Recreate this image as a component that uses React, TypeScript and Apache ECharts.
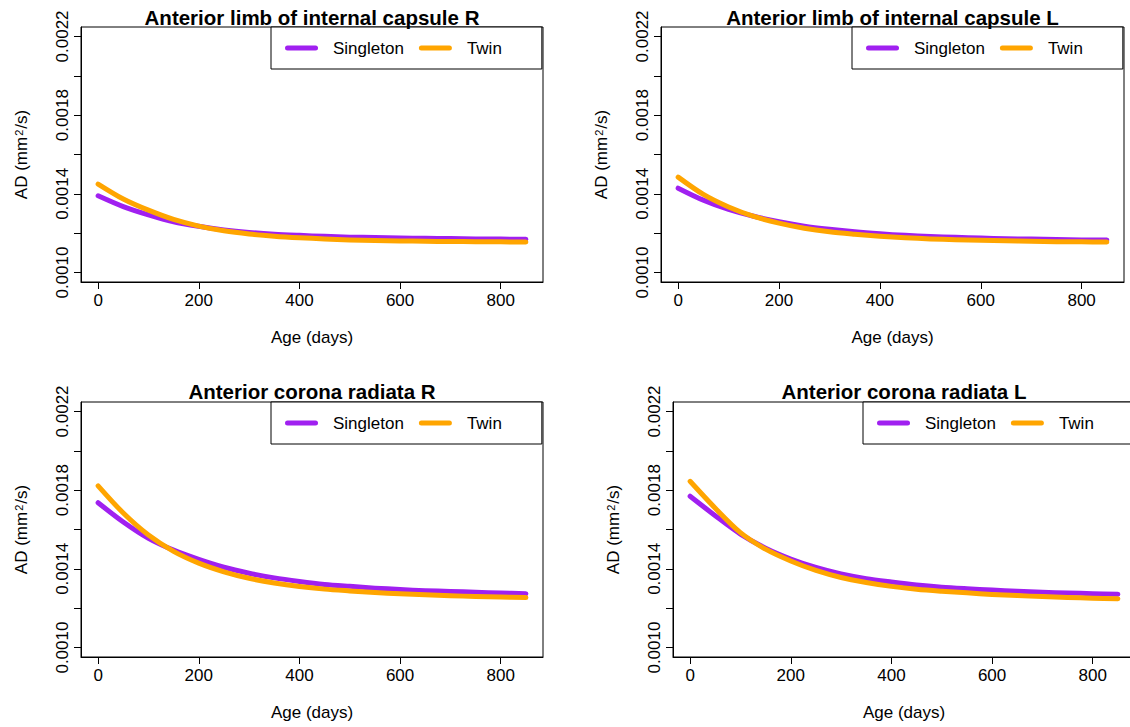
import React, { useEffect, useRef } from "react";
import * as echarts from "echarts";

// ---- data ----
const days = [0, 50, 100, 150, 200, 250, 300, 350, 400, 450, 500, 550, 600, 650, 700, 750, 800, 850];
const panelTitles = [
  "Anterior limb of internal capsule R",
  "Anterior limb of internal capsule L",
  "Anterior corona radiata R",
  "Anterior corona radiata L",
];
const groupNames = ["Singleton", "Twin"];

const alicRSingleton = [0.00139, 0.001335, 0.001293, 0.001258, 0.001235, 0.001217, 0.001204, 0.001195, 0.001189, 0.001184, 0.00118, 0.001178, 0.001176, 0.001174, 0.001173, 0.001171, 0.00117, 0.001169];
const alicRTwin = [0.00145, 0.001374, 0.001317, 0.00127, 0.001236, 0.001212, 0.001196, 0.001185, 0.001177, 0.001171, 0.001166, 0.001163, 0.001161, 0.001159, 0.001158, 0.001157, 0.001156, 0.001155];
const alicLSingleton = [0.001429, 0.001368, 0.001321, 0.001286, 0.001258, 0.001236, 0.00122, 0.001207, 0.001197, 0.001189, 0.001183, 0.001179, 0.001175, 0.001172, 0.00117, 0.001168, 0.001166, 0.001165];
const alicLTwin = [0.001485, 0.001397, 0.001333, 0.001285, 0.001251, 0.001225, 0.001207, 0.001195, 0.001185, 0.001177, 0.001171, 0.001167, 0.001164, 0.001162, 0.001159, 0.001157, 0.001156, 0.001155];
const acrRSingleton = [0.001736, 0.001638, 0.001555, 0.001495, 0.001448, 0.001408, 0.001378, 0.001354, 0.001336, 0.001321, 0.001311, 0.001302, 0.001295, 0.001289, 0.001285, 0.001281, 0.001277, 0.001274];
const acrRTwin = [0.001822, 0.001684, 0.001572, 0.001489, 0.001429, 0.001385, 0.001352, 0.001328, 0.00131, 0.001297, 0.001288, 0.00128, 0.001273, 0.001268, 0.001263, 0.00126, 0.001257, 0.001254];
const acrLSingleton = [0.001769, 0.00167, 0.001577, 0.001505, 0.00145, 0.001407, 0.001374, 0.00135, 0.001333, 0.001318, 0.001307, 0.001299, 0.001292, 0.001286, 0.001281, 0.001277, 0.001274, 0.001271];
const acrLTwin = [0.001845, 0.001708, 0.001584, 0.0015, 0.00144, 0.001392, 0.001356, 0.001331, 0.001311, 0.001296, 0.001286, 0.001278, 0.00127, 0.001264, 0.001259, 0.001255, 0.001251, 0.001248];

const panelData = [
  [alicRSingleton, alicRTwin],
  [alicLSingleton, alicLTwin],
  [acrRSingleton, acrRTwin],
  [acrLSingleton, acrLTwin],
];

const xTickValues = [0, 200, 400, 600, 800];
const yTickValues = [0.001, 0.0012, 0.0014, 0.0016, 0.0018, 0.002, 0.0022];
const yLabelValues = [0.001, 0.0014, 0.0018, 0.0022];
const xRange = [-34, 884];
const yRange = [0.000952, 0.002248];

const xTitle = "Age (days)";
const yTitle = "AD (mm{sup|2}/s)";

// ---- layout / style ----
const FONT = '"Liberation Sans", Arial, Helvetica, sans-serif';
const COLORS = ["#A020F0", "#FFA500"];
const grids = [
  { left: 81, top: 27, width: 462, height: 255 },
  { left: 661, top: 27, width: 463, height: 255 },
  { left: 81, top: 402, width: 462, height: 255 },
  { left: 673, top: 402, width: 462, height: 255 },
];
const legendWidth = 272;

export default function App() {
  const ref = useRef<HTMLDivElement>(null);

  useEffect(() => {
    if (!ref.current) return;
    const chart = echarts.init(ref.current, null, { renderer: "svg" });

    const xAxis = grids.map((g, i) => ({
      type: "value",
      gridIndex: i,
      min: xRange[0],
      max: xRange[1],
      splitLine: { show: false },
      axisLine: { show: true, onZero: false, lineStyle: { color: "#000", width: 1 } },
      axisTick: { show: true, length: 7, customValues: xTickValues, lineStyle: { color: "#000", width: 1 } },
      axisLabel: {
        customValues: xTickValues,
        color: "#000",
        fontSize: 17,
        fontFamily: FONT,
        margin: 10,
      },
      name: xTitle,
      nameLocation: "middle",
      nameGap: 47,
      nameTextStyle: { color: "#000", fontSize: 17, fontFamily: FONT },
    }));

    const yAxis = grids.map((g, i) => ({
      type: "value",
      gridIndex: i,
      min: yRange[0],
      max: yRange[1],
      splitLine: { show: false },
      axisLine: { show: true, onZero: false, lineStyle: { color: "#000", width: 1 } },
      axisTick: { show: true, length: 7, customValues: yTickValues, lineStyle: { color: "#000", width: 1 } },
      axisLabel: {
        customValues: yLabelValues,
        rotate: 90,
        color: "#000",
        fontSize: 17,
        fontFamily: FONT,
        margin: 10,
        formatter: (v: number) => v.toFixed(4),
      },
      name: yTitle,
      nameLocation: "middle",
      nameRotate: 90,
      nameGap: 51,
      nameTextStyle: {
        color: "#000",
        fontSize: 17,
        fontFamily: FONT,
        rich: {
          sup: { fontSize: 11, fontFamily: FONT, color: "#000", verticalAlign: "top", padding: [0, 1, 0, 1] },
        },
      },
    }));

    const series: any[] = [];
    panelData.forEach((pair, i) => {
      pair.forEach((vals, k) => {
        series.push({
          type: "line",
          name: groupNames[k],
          xAxisIndex: i,
          yAxisIndex: i,
          data: days.map((d, j) => [d, vals[j]]),
          showSymbol: false,
          symbol: "none",
          smooth: 0.3,
          color: COLORS[k],
          lineStyle: { color: COLORS[k], width: 5, cap: "round", join: "round" },
          z: 2 + k,
        });
      });
    });

    const legend = grids.map((g) => ({
      show: true,
      data: groupNames,
      orient: "horizontal",
      left: g.left + g.width - legendWidth,
      top: g.top,
      width: 400,
      padding: [12, 40, 12, 14],
      itemGap: 15,
      itemWidth: 33,
      itemHeight: 5,
      icon: "path://M2.5,0 L30.5,0 A2.5,2.5 0 0 1 30.5,5 L2.5,5 A2.5,2.5 0 0 1 2.5,0 Z",
      borderColor: "#000",
      borderWidth: 1,
      borderRadius: 0,
      backgroundColor: "#fff",
      selectedMode: false,
      textStyle: { color: "#000", fontSize: 17, fontFamily: FONT, padding: [0, 0, 0, 10], lineHeight: 18 },
    }));

    const graphic = grids.map((g, i) => ({
      type: "text",
      x: g.left + g.width / 2,
      y: i < 2 ? 17 : 391,
      z: 10,
      style: {
        text: panelTitles[i],
        font: `bold 20.5px ${FONT}`,
        fill: "#000",
        textAlign: "center",
        textVerticalAlign: "middle",
        align: "center",
        verticalAlign: "middle",
      },
    }));

    chart.setOption({
      animation: false,
      backgroundColor: "#fff",
      grid: grids.map((g) => ({ ...g, show: true, borderColor: "#000", borderWidth: 1, backgroundColor: "transparent", containLabel: false })),
      xAxis,
      yAxis,
      legend,
      series,
      graphic,
    });

    return () => chart.dispose();
  }, []);

  return (
    <div style={{ position: "fixed", left: 0, top: 0, width: 1130, height: 727, overflow: "hidden", background: "#fff" }}>
      <div ref={ref} style={{ width: 1170, height: 727 }} />
    </div>
  );
}
